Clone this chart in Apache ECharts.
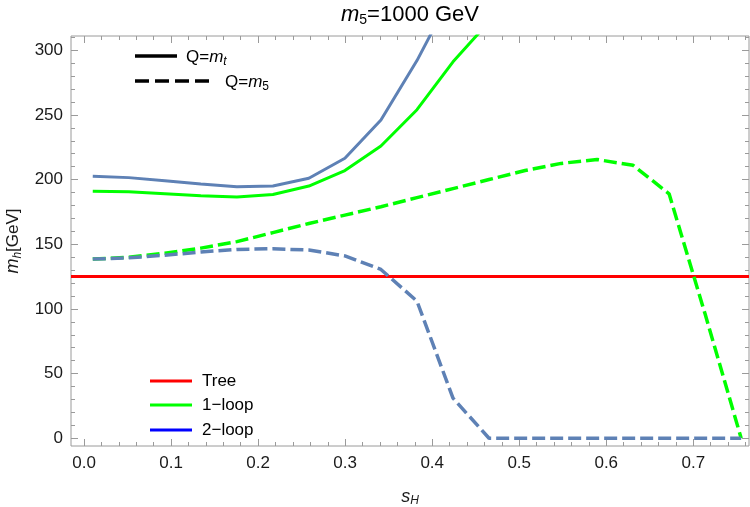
<!DOCTYPE html>
<html>
<head>
<meta charset="utf-8">
<script src="https://cdn.jsdelivr.net/npm/echarts@6/dist/echarts.min.js"></script>
<style>
	html, body { margin: 0; padding: 0; background: #fff; }
	#chart { width: 750px; height: 507px; }
</style>
</head>
<body>
<div id="chart"></div>
<script>
	// s_H sample points
	var sH = [0.01, 0.0514, 0.0928, 0.1342, 0.1756, 0.217, 0.2583, 0.2997, 0.3411, 0.3825,
		0.4239, 0.4653, 0.5067, 0.5481, 0.5894, 0.6308, 0.6722, 0.7136, 0.755];
	// Q = m_t (solid)
	var oneLoopMt = [191, 190.5, 189, 187.5, 186.5, 188.5, 195, 207, 226, 254, 291, 322];
	var twoLoopMt = [202.5, 201.5, 199, 196.5, 194.5, 195, 201, 216.5, 246, 292, 345];
	// Q = m_5 (dashed)
	var oneLoopM5 = [138.5, 140, 143, 147, 152, 159, 166, 172.5, 179, 186, 193, 200, 207, 212.5, 215.5, 211, 189, 96, 0];
	var twoLoopM5 = [138.5, 139.5, 141.5, 144, 146, 146.5, 145.5, 141, 130.5, 106, 31, 0, 0, 0, 0, 0, 0, 0, 0];
	var treeMh = 125;

	var xMajor = [0, 0.1, 0.2, 0.3, 0.4, 0.5, 0.6, 0.7];
	var yMajor = [0, 50, 100, 150, 200, 250, 300];
	var xMin = -0.015, xMax = 0.764;
	var yMin = -6, yMax = 311;

	var xMinor = [];
	for (var k = 0; k <= 38; k++) xMinor.push(Math.round(k * 2) / 100);
	var yMinor = [];
	for (var j = 0; j <= 31; j++) yMinor.push(j * 10);

	var frameColor = '#9a9a9a';
	var blue = '#5e81b5';
	var font = 'Liberation Sans, Arial, sans-serif';
	var rect = { left: 71, right: 1, top: 36, bottom: 61 };

	function pairs(vals) {
		return vals.map(function(v, i) {
			return [sH[i], v];
		});
	}

	// one axis that only draws inward ticks (and optionally labels)
	function tickAxis(grid, pos, min, max, ticks, len, labels, extra) {
		var ax = {
			type: 'value',
			gridIndex: grid,
			position: pos,
			min: min,
			max: max,
			axisLine: { show: false, onZero: false },
			splitLine: { show: false },
			axisTick: {
				show: true,
				inside: true,
				length: len,
				customValues: ticks,
				lineStyle: { color: frameColor, width: 1 }
			},
			axisLabel: { show: false }
		};
		if (labels) {
			ax.axisLabel = {
				show: true,
				customValues: labels.values,
				formatter: labels.formatter,
				fontSize: 17,
				fontFamily: font,
				color: '#1a1a1a',
				margin: labels.margin
			};
		}
		if (extra) {
			for (var key in extra) ax[key] = extra[key];
		}
		return ax;
	}

	var chart = echarts.init(document.getElementById('chart'));

	var option = {
		animation: false,
		grid: [
			{
				left: rect.left, right: rect.right, top: rect.top, bottom: rect.bottom,
				outerBoundsMode: 'none',
				show: true,
				borderColor: frameColor,
				borderWidth: 1
			},
			{
				left: rect.left, right: rect.right, top: rect.top, bottom: rect.bottom,
				outerBoundsMode: 'none',
				show: false
			}
		],
		xAxis: [
			tickAxis(0, 'bottom', xMin, xMax, xMajor, 7, {
				values: xMajor,
				formatter: function(v) { return v.toFixed(1); },
				margin: 9
			}, {
				name: '{i|s}{sub|H}',
				nameLocation: 'middle',
				nameGap: 40,
				nameTextStyle: {
					rich: {
						i: { fontSize: 18, fontStyle: 'italic', fontFamily: font, color: '#1a1a1a' },
						sub: { fontSize: 12, fontStyle: 'italic', fontFamily: font, color: '#1a1a1a', padding: [9, 0, 0, 0] }
					}
				}
			}),
			tickAxis(0, 'top', xMin, xMax, xMajor, 7),
			tickAxis(1, 'bottom', xMin, xMax, xMinor, 4),
			tickAxis(1, 'top', xMin, xMax, xMinor, 4)
		],
		yAxis: [
			tickAxis(0, 'left', yMin, yMax, yMajor, 7, {
				values: yMajor,
				formatter: function(v) { return String(v); },
				margin: 8
			}, {
				name: '{i|m}{sub|h}{n|[GeV]}',
				nameLocation: 'middle',
				nameGap: 47,
				nameRotate: 90,
				nameTextStyle: {
					rich: {
						i: { fontSize: 18, fontStyle: 'italic', fontFamily: font, color: '#1a1a1a' },
						sub: { fontSize: 12, fontStyle: 'italic', fontFamily: font, color: '#1a1a1a', padding: [9, 0, 0, 0] },
						n: { fontSize: 17, fontFamily: font, color: '#1a1a1a' }
					}
				}
			}),
			tickAxis(0, 'right', yMin, yMax, yMajor, 7),
			tickAxis(1, 'left', yMin, yMax, yMinor, 4),
			tickAxis(1, 'right', yMin, yMax, yMinor, 4)
		],
		series: [
			{
				name: 'Tree',
				type: 'line',
				showSymbol: false,
				data: [[xMin, treeMh], [xMax, treeMh]],
				lineStyle: { color: '#ff0000', width: 3 }
			},
			{
				name: '1-loop Q=mt',
				type: 'line',
				showSymbol: false,
				data: pairs(oneLoopMt),
				lineStyle: { color: '#00ff00', width: 3 }
			},
			{
				name: '1-loop Q=m5',
				type: 'line',
				showSymbol: false,
				data: pairs(oneLoopM5),
				lineStyle: { color: '#00ff00', width: 3.5, type: [13, 5] }
			},
			{
				name: '2-loop Q=mt',
				type: 'line',
				showSymbol: false,
				data: pairs(twoLoopMt),
				lineStyle: { color: blue, width: 3 }
			},
			{
				name: '2-loop Q=m5',
				type: 'line',
				showSymbol: false,
				data: pairs(twoLoopM5),
				lineStyle: { color: blue, width: 3.5, type: [13, 5] }
			}
		],
		graphic: [
			// title
			{
				type: 'text',
				x: 410,
				y: 15,
				style: {
					text: '{i|m}{sub|5}{n|=1000 GeV}',
					align: 'center',
					verticalAlign: 'middle',
					rich: {
						i: { fontSize: 22, fontStyle: 'italic', fontFamily: font, fill: '#000' },
						sub: { fontSize: 14, fontFamily: font, fill: '#000', padding: [11, 0, 0, 0] },
						n: { fontSize: 22, fontFamily: font, fill: '#000' }
					}
				}
			},
			// scale legend
			{ type: 'line', shape: { x1: 135, y1: 56, x2: 177, y2: 56 }, style: { stroke: '#000', lineWidth: 3.5 } },
			{
				type: 'text', x: 186, y: 57,
				style: {
					text: '{n|Q=}{i|m}{sub|t}',
					verticalAlign: 'middle',
					rich: {
						n: { fontSize: 17, fontFamily: font, fill: '#000' },
						i: { fontSize: 17, fontStyle: 'italic', fontFamily: font, fill: '#000' },
						sub: { fontSize: 12, fontStyle: 'italic', fontFamily: font, fill: '#000', padding: [9, 0, 0, 0] }
					}
				}
			},
			{ type: 'line', shape: { x1: 135, y1: 81, x2: 213, y2: 81 }, style: { stroke: '#000', lineWidth: 3.5, lineDash: [14, 6] } },
			{
				type: 'text', x: 225, y: 82,
				style: {
					text: '{n|Q=}{i|m}{sub|5}',
					verticalAlign: 'middle',
					rich: {
						n: { fontSize: 17, fontFamily: font, fill: '#000' },
						i: { fontSize: 17, fontStyle: 'italic', fontFamily: font, fill: '#000' },
						sub: { fontSize: 12, fontFamily: font, fill: '#000', padding: [9, 0, 0, 0] }
					}
				}
			},
			// order legend
			{ type: 'line', shape: { x1: 150, y1: 381, x2: 192, y2: 381 }, style: { stroke: '#ff0000', lineWidth: 3 } },
			{ type: 'text', x: 202, y: 381, style: { text: 'Tree', fontSize: 17, fontFamily: font, fill: '#000', verticalAlign: 'middle' } },
			{ type: 'line', shape: { x1: 150, y1: 405, x2: 192, y2: 405 }, style: { stroke: '#00ff00', lineWidth: 3 } },
			{ type: 'text', x: 202, y: 405, style: { text: '1\u2212loop', fontSize: 17, fontFamily: font, fill: '#000', verticalAlign: 'middle' } },
			{ type: 'line', shape: { x1: 150, y1: 430, x2: 192, y2: 430 }, style: { stroke: '#0000ff', lineWidth: 3 } },
			{ type: 'text', x: 202, y: 430, style: { text: '2\u2212loop', fontSize: 17, fontFamily: font, fill: '#000', verticalAlign: 'middle' } }
		]
	};

	chart.setOption(option);
</script>
</body>
</html>
